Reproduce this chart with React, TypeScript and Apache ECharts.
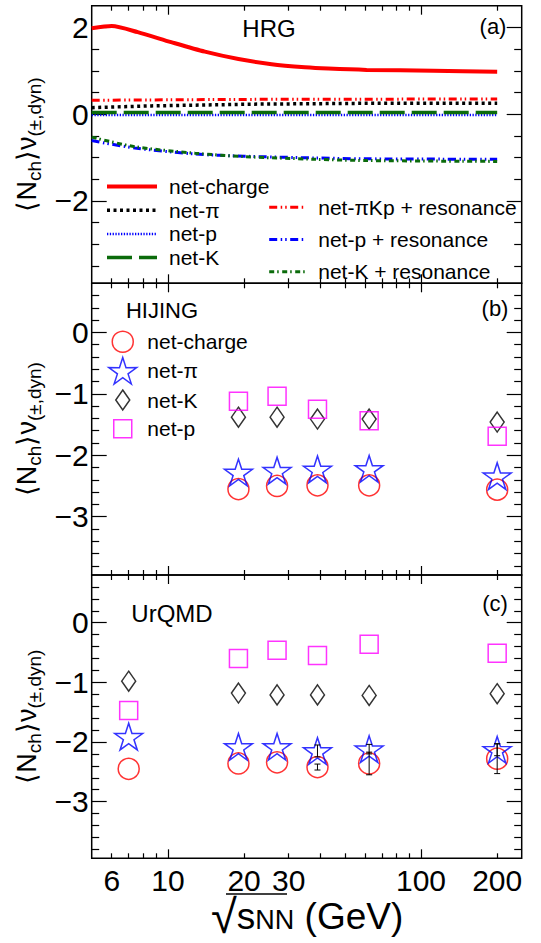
import { useEffect, useRef } from 'react';
import * as echarts from 'echarts';

const FONT = "'Liberation Sans', Arial, Helvetica, sans-serif";

// ---------- Panel (a): HRG ----------
const hrgChargeEnergy = [5, 6, 7.6, 10.3, 14, 19, 25.7, 34.8, 43, 61, 112, 200];
const hrgChargeValue = [1.98, 2.03, 1.89, 1.66, 1.44, 1.27, 1.15, 1.08, 1.05, 1.02, 1.0, 0.98];
const hrgPiEnergy = [5, 8.6, 21.5, 62, 200];
const hrgPiValue = [0.15, 0.19, 0.23, 0.25, 0.25];
const hrgPEnergy = [5, 200];
const hrgPValue = [-0.02, -0.02];
const hrgKEnergy = [5, 200];
const hrgKValue = [0.04, 0.04];
const hrgPiKpResEnergy = [5, 20, 200];
const hrgPiKpResValue = [0.32, 0.34, 0.35];
const hrgPResEnergy = [5, 7.4, 12.8, 20, 38, 61, 200];
const hrgPResValue = [-0.61, -0.78, -0.92, -0.97, -1.01, -1.03, -1.04];
const hrgKResEnergy = [5, 7.4, 12.8, 20, 38, 61, 200];
const hrgKResValue = [-0.53, -0.75, -0.9, -0.98, -1.04, -1.07, -1.09];

// ---------- Panel (b): HIJING ----------
const hijingEnergy = [19, 27, 39, 62.4, 200];
const hijingCharge = [-2.55, -2.5, -2.49, -2.49, -2.56];
const hijingPi = [-2.28, -2.25, -2.23, -2.22, -2.34];
const hijingK = [-1.38, -1.38, -1.41, -1.41, -1.46];
const hijingP = [-1.12, -1.04, -1.25, -1.44, -1.69];

// ---------- Panel (c): UrQMD ----------
const urqmdEnergy = [7, 19, 27, 39, 62.4, 200];
const urqmdCharge = [-2.45, -2.36, -2.34, -2.42, -2.36, -2.28];
const urqmdPi = [-1.91, -2.08, -2.08, -2.15, -2.12, -2.13];
const urqmdK = [-0.98, -1.18, -1.21, -1.21, -1.22, -1.19];
const urqmdP = [-1.47, -0.6, -0.46, -0.55, -0.36, -0.51];
const urqmdChargeErr = [0, 0, 0, 0.05, 0.19, 0.25];
const urqmdPiErr = [0, 0, 0, 0.1, 0.08, 0.1];

// ---------- Axes ----------
const X_MIN = 5;
const X_MAX = 250;
const xTickLabels = [6, 10, 20, 30, 100, 200];
const xMinorTicks = [6, 7, 8, 9, 20, 30, 40, 50, 60, 70, 80, 90, 200];
const xMajorTicks = [10, 100];
const yRangeA = [-3.9, 2.5];
const yRangeBC = [-3.95, 0.8];
const yMajorA = [-2, 0, 2];
const yMinorA = [-3.5, -3, -2.5, -1.5, -1, -0.5, 0.5, 1, 1.5];
const yMajorBC = [-3, -2, -1, 0];
const yMinorBC = [0.6, 0.4, 0.2, -0.2, -0.4, -0.6, -0.8, -1.2, -1.4, -1.6, -1.8, -2.2, -2.4, -2.6, -2.8, -3.2, -3.4, -3.6, -3.8];

const RED = '#ff0000';
const BLUE = '#0000ff';
const GREEN = '#0b6b0b';
const MAGENTA = '#ff00ff';
const BLACK = '#000000';

const GRIDS = [
  { left: 91.7, right: 19.3, top: 5.7, height: 277.6 },
  { left: 91.7, right: 19.3, top: 283.3, height: 291.7 },
  { left: 91.7, right: 19.3, top: 575, height: 283.3 },
];

function starPath(): string {
  const pts: string[] = [];
  for (let i = 0; i < 10; i++) {
    const a = (-90 + i * 36) * Math.PI / 180;
    const r = i % 2 === 0 ? 50 : 19;
    pts.push((i === 0 ? 'M' : 'L') + (r * Math.cos(a)).toFixed(2) + ' ' + (r * Math.sin(a)).toFixed(2));
  }
  return 'path://' + pts.join(' ') + ' Z';
}
const STAR = starPath();

const lg = (v: number) => Math.log10(v);

function tick(vals: number[], len: number) {
  return { show: true, inside: true, length: len, customValues: vals, lineStyle: { color: BLACK, width: 1.2 } };
}

function xAxesFor(g: number, labels: boolean) {
  const base: any = {
    type: 'value', gridIndex: g, min: lg(X_MIN), max: lg(X_MAX),
    axisLine: { show: false, onZero: false }, splitLine: { show: false },
  };
  return [
    {
      ...base, position: 'bottom', axisTick: tick(xMinorTicks.map(lg), 5),
      axisLabel: labels ? {
        show: true, customValues: xTickLabels.map(lg),
        formatter: (v: number) => String(Math.round(Math.pow(10, v))),
        fontSize: 30, fontFamily: FONT, color: BLACK, margin: 7, lineHeight: 30,
      } : { show: false },
    },
    { ...base, position: 'bottom', axisTick: tick(xMajorTicks.map(lg), 9), axisLabel: { show: false } },
    { ...base, position: 'top', axisTick: tick(xMinorTicks.map(lg), 5), axisLabel: { show: false } },
    { ...base, position: 'top', axisTick: tick(xMajorTicks.map(lg), 9), axisLabel: { show: false } },
  ];
}

const yName = '{m|\u27E8N}{s|ch}{m|\u27E9\u03BD}{s|(\u00B1,dyn)}';

function yAxesFor(g: number, range: number[], major: number[], minor: number[]) {
  const base: any = {
    type: 'value', gridIndex: g, min: range[0], max: range[1],
    axisLine: { show: false, onZero: false }, splitLine: { show: false },
  };
  return [
    {
      ...base, position: 'left', axisTick: tick(major, 15),
      axisLabel: {
        show: true, customValues: major,
        formatter: (v: number) => String(v).replace('-', '\u2212'),
        fontSize: 30, fontFamily: FONT, color: BLACK, margin: 3,
      },
      name: yName, nameLocation: 'middle', nameGap: 38, nameRotate: 90,
      nameTextStyle: {
        fontFamily: FONT, color: BLACK,
        rich: {
          m: { fontSize: 27, fontFamily: FONT, color: BLACK, lineHeight: 34 },
          s: { fontSize: 19, fontFamily: FONT, color: BLACK, lineHeight: 19, verticalAlign: 'bottom' },
        },
      },
    },
    { ...base, position: 'left', axisTick: tick(minor, 7.5), axisLabel: { show: false } },
    { ...base, position: 'right', axisTick: tick(major, 15), axisLabel: { show: false } },
    { ...base, position: 'right', axisTick: tick(minor, 7.5), axisLabel: { show: false } },
  ];
}

function lineSeries(name: string, xs: number[], ys: number[], color: string, width: number, type: any, smooth: any = false) {
  return {
    type: 'line', name, xAxisIndex: 0, yAxisIndex: 0, symbol: 'none', smooth,
    data: xs.map((x, i) => [lg(x), ys[i]]),
    lineStyle: { color, width, type }, itemStyle: { color }, silent: true,
  };
}

function scatterSeries(name: string, g: number, xs: number[], ys: number[], symbol: string, size: any, color: string) {
  return {
    type: 'scatter', name, xAxisIndex: g * 4, yAxisIndex: g * 4, symbol, symbolSize: size,
    data: xs.map((x, i) => [lg(x), ys[i]]),
    itemStyle: { color: 'transparent', borderColor: color, borderWidth: 1.5 }, silent: true,
  };
}

const STYLE = {
  charge: { color: RED, width: 4, type: 'solid' },
  pi: { color: BLACK, width: 3.5, type: [3, 3.5] },
  p: { color: BLUE, width: 2.5, type: [1.3, 1.5] },
  k: { color: GREEN, width: 3.5, type: [25, 7] },
  piKpRes: { color: RED, width: 3, type: [8, 3.5, 1.5, 3, 1.5, 3.5] },
  pRes: { color: BLUE, width: 3, type: [8, 3.5, 1.5, 3, 1.5, 3.5] },
  kRes: { color: GREEN, width: 3, type: [5, 3, 1.5, 3.5] },
};

function errorSeries(g: number, xs: number[], ys: number[], errs: number[]) {
  const data: number[][] = [];
  xs.forEach((x, i) => { if (errs[i] > 0) data.push([lg(x), ys[i], errs[i]]); });
  return {
    type: 'custom', xAxisIndex: g * 4, yAxisIndex: g * 4, silent: true, z: 5,
    data,
    renderItem: (params: any, api: any) => {
      const x = api.value(0), y = api.value(1), e = api.value(2);
      const top = api.coord([x, y + e]);
      const bot = api.coord([x, y - e]);
      const st = { stroke: BLACK, lineWidth: 1 };
      return {
        type: 'group',
        children: [
          { type: 'line', shape: { x1: top[0], y1: top[1], x2: bot[0], y2: bot[1] }, style: st },
          { type: 'line', shape: { x1: top[0] - 3, y1: top[1], x2: top[0] + 3, y2: top[1] }, style: st },
          { type: 'line', shape: { x1: bot[0] - 3, y1: bot[1], x2: bot[0] + 3, y2: bot[1] }, style: st },
        ],
      };
    },
  };
}

function markerLegend(name: string, icon: string, w: number, h: number, color: string, cx: number, cy: number) {
  const textStart = 146.6;
  const pad = textStart - (cx + w / 2) - 5;
  const itemH = Math.max(h, 20);
  return {
    show: true, orient: 'horizontal', left: cx - w / 2, top: cy - itemH / 2, padding: 0,
    itemWidth: w, itemHeight: h, selectedMode: false,
    formatter: (n: string) => n.replace(/^H:/, ''),
    textStyle: { fontSize: 21, fontFamily: FONT, color: BLACK, lineHeight: 20, padding: [0, 0, 0, pad] },
    data: [{ name, icon, itemStyle: { color: 'transparent', borderColor: color, borderWidth: 1.5 } }],
  };
}

function buildOption(): any {
  const xAxis = [...xAxesFor(0, false), ...xAxesFor(1, false), ...xAxesFor(2, true)];
  const yAxis = [
    ...yAxesFor(0, yRangeA, yMajorA, yMinorA),
    ...yAxesFor(1, yRangeBC, yMajorBC, yMinorBC),
    ...yAxesFor(2, yRangeBC, yMajorBC, yMinorBC),
  ];
  const series: any[] = [
    lineSeries('net-\u03C0Kp + resonance', hrgPiKpResEnergy, hrgPiKpResValue, RED, STYLE.piKpRes.width, STYLE.piKpRes.type),
    lineSeries('net-\u03C0', hrgPiEnergy, hrgPiValue, BLACK, STYLE.pi.width, STYLE.pi.type),
    lineSeries('net-p', hrgPEnergy, hrgPValue, BLUE, STYLE.p.width, STYLE.p.type),
    lineSeries('net-K', hrgKEnergy, hrgKValue, GREEN, STYLE.k.width, STYLE.k.type),
    lineSeries('net-p + resonance', hrgPResEnergy, hrgPResValue, BLUE, STYLE.pRes.width, STYLE.pRes.type, 0.3),
    lineSeries('net-K + resonance', hrgKResEnergy, hrgKResValue, GREEN, STYLE.kRes.width, STYLE.kRes.type, 0.3),
    lineSeries('net-charge', hrgChargeEnergy, hrgChargeValue, RED, STYLE.charge.width, STYLE.charge.type, 0.25),

    scatterSeries('H:net-charge', 1, hijingEnergy, hijingCharge, 'circle', 21, RED),
    scatterSeries('H:net-\u03C0', 1, hijingEnergy, hijingPi, STAR, [28, 26.6], BLUE),
    scatterSeries('H:net-K', 1, hijingEnergy, hijingK, 'diamond', [14, 20], BLACK),
    scatterSeries('H:net-p', 1, hijingEnergy, hijingP, 'rect', 18, MAGENTA),

    scatterSeries('U:net-charge', 2, urqmdEnergy, urqmdCharge, 'circle', 21, RED),
    scatterSeries('U:net-\u03C0', 2, urqmdEnergy, urqmdPi, STAR, [28, 26.6], BLUE),
    scatterSeries('U:net-K', 2, urqmdEnergy, urqmdK, 'diamond', [14, 20], BLACK),
    scatterSeries('U:net-p', 2, urqmdEnergy, urqmdP, 'rect', 18, MAGENTA),
    errorSeries(2, urqmdEnergy, urqmdCharge, urqmdChargeErr),
    errorSeries(2, urqmdEnergy, urqmdPi, urqmdPiErr),
  ];

  const lineLegendItem = (name: string, s: any) => ({ name, lineStyle: { color: s.color, width: s.width, type: s.type } });

  const legend: any[] = [
    {
      show: true, orient: 'vertical', left: 105, top: 176, padding: 0, itemWidth: 50, itemHeight: 14, itemGap: 2.7,
      selectedMode: false, itemStyle: { opacity: 0 },
      textStyle: { fontSize: 21, fontFamily: FONT, color: BLACK, lineHeight: 20, padding: [0, 0, 0, 7] },
      data: [
        lineLegendItem('net-charge', STYLE.charge),
        lineLegendItem('net-\u03C0', STYLE.pi),
        lineLegendItem('net-p', STYLE.p),
        lineLegendItem('net-K', STYLE.k),
      ],
    },
    {
      show: true, orient: 'vertical', left: 267.7, top: 196.7, padding: 0, itemWidth: 37, itemHeight: 14, itemGap: 11.3,
      selectedMode: false, itemStyle: { opacity: 0 },
      textStyle: { fontSize: 21, fontFamily: FONT, color: BLACK, lineHeight: 20, padding: [0, 0, 0, 7] },
      data: [
        lineLegendItem('net-\u03C0Kp + resonance', STYLE.piKpRes),
        lineLegendItem('net-p + resonance', STYLE.pRes),
        lineLegendItem('net-K + resonance', STYLE.kRes),
      ],
    },
    markerLegend('H:net-charge', 'circle', 21, 21, RED, 122, 341),
    markerLegend('H:net-\u03C0', STAR, 28, 26.6, BLUE, 122, 370),
    markerLegend('H:net-K', 'diamond', 14, 20, BLACK, 122, 399.3),
    markerLegend('H:net-p', 'rect', 18, 18, MAGENTA, 122, 428.3),
  ];

  const label = (text: string, x: number, y: number, size: number) => ({
    type: 'text', x, y, silent: true,
    style: { text, fontSize: size, fontFamily: FONT, fill: BLACK, align: 'center', verticalAlign: 'middle' },
  });

  const graphic: any[] = [
    label('HRG', 269, 28, 24),
    label('(a)', 493, 26, 22),
    label('HIJING', 162, 310, 22),
    label('(b)', 495, 308, 22),
    label('UrQMD', 172, 613, 24),
    label('(c)', 495, 603, 22),
    {
      type: 'text', x: 211, y: 916, silent: true,
      style: {
        text: '{r|\u221A}{s|s}{n|NN}{g| (GeV)}', align: 'left', verticalAlign: 'middle',
        fontFamily: FONT, fill: BLACK,
        rich: {
          r: { fontSize: 47, fontFamily: FONT, fill: BLACK, lineHeight: 34 },
          s: { fontSize: 37, fontFamily: FONT, fill: BLACK, lineHeight: 34 },
          n: { fontSize: 27, fontFamily: FONT, fill: BLACK, lineHeight: 16, verticalAlign: 'bottom' },
          g: { fontSize: 37, fontFamily: FONT, fill: BLACK, lineHeight: 34 },
        },
      },
    },
    {
      type: 'line', silent: true,
      shape: { x1: 226, y1: 894, x2: 287, y2: 894 },
      style: { stroke: BLACK, lineWidth: 1.5 },
    },
  ];

  return {
    animation: false,
    backgroundColor: '#ffffff',
    textStyle: { fontFamily: FONT },
    grid: GRIDS.map((g) => ({ ...g, show: true, borderColor: BLACK, borderWidth: 1.5, backgroundColor: 'transparent', containLabel: false })),
    xAxis, yAxis, series, legend, graphic,
  };
}

export default function App() {
  const ref = useRef<HTMLDivElement>(null);
  useEffect(() => {
    if (!ref.current) return;
    const chart = echarts.init(ref.current, null, { renderer: 'svg' });
    chart.setOption(buildOption());
    return () => chart.dispose();
  }, []);
  return (
    <div
      ref={ref}
      style={{ position: 'fixed', left: 0, top: 0, width: 541, height: 943, background: '#fff' }}
    />
  );
}
